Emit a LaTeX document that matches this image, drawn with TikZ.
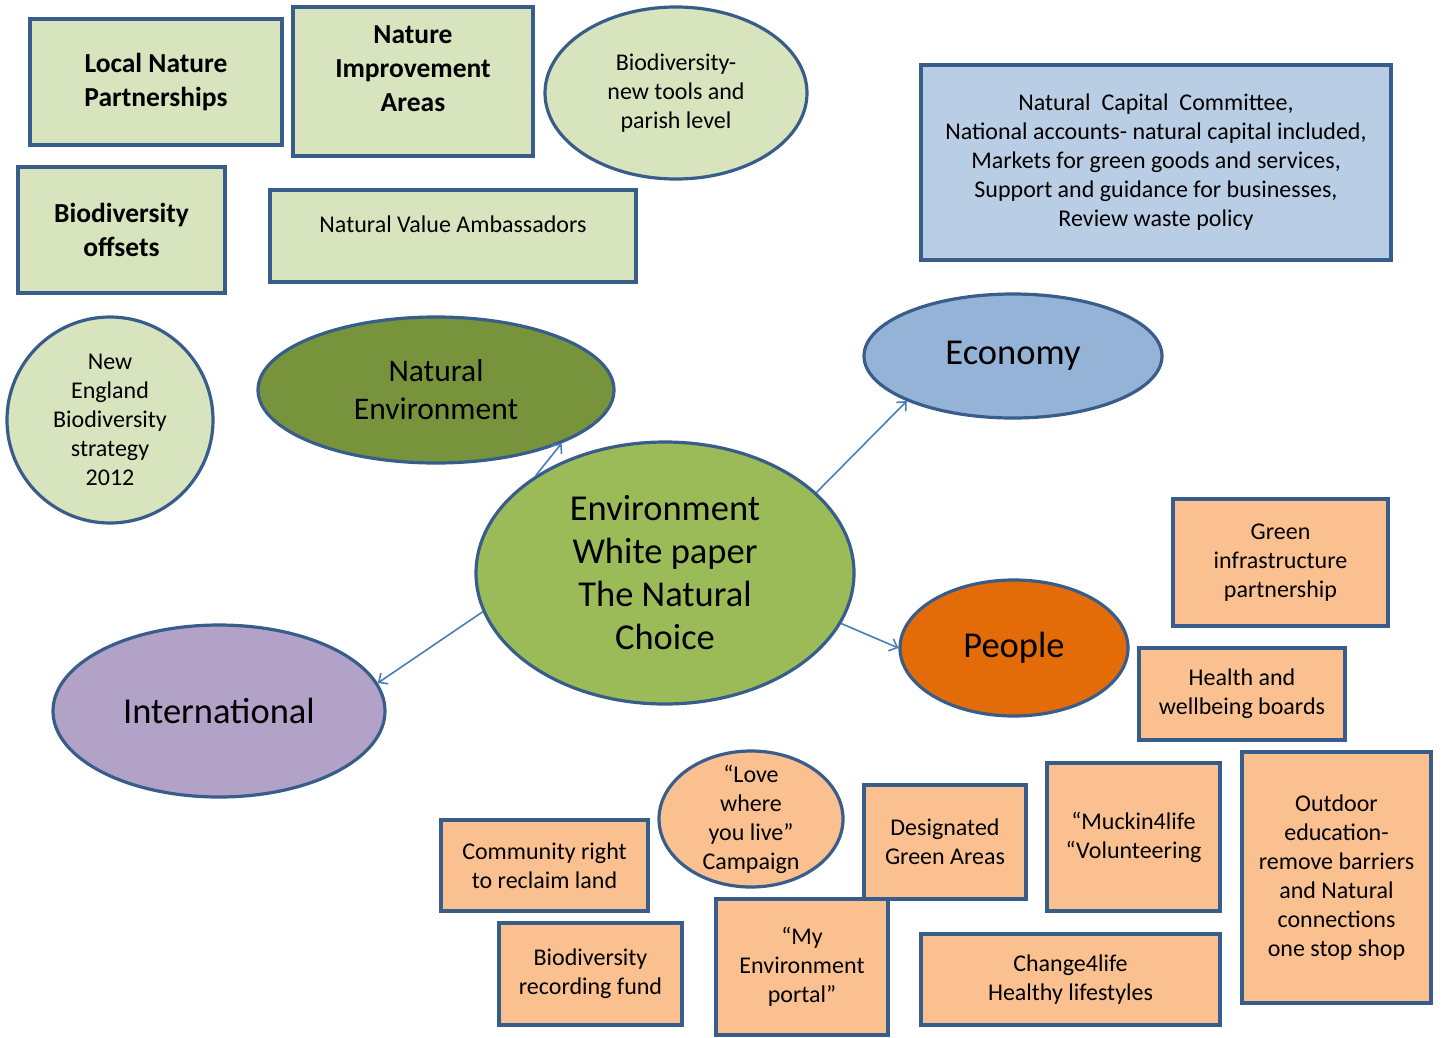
\documentclass[tikz,border=0pt]{standalone}
\usepackage{fontspec}
\setmainfont{Carlito}
\usetikzlibrary{shapes.geometric,arrows.meta}

\definecolor{edgeblue}{RGB}{56,93,138}
\definecolor{arrowblue}{RGB}{74,126,187}
\definecolor{palegreen}{RGB}{215,228,189}
\definecolor{paleblue}{RGB}{185,205,229}
\definecolor{paleorange}{RGB}{250,192,144}
\definecolor{olivegreen}{RGB}{119,147,60}
\definecolor{leafgreen}{RGB}{155,187,89}
\definecolor{skyblue}{RGB}{149,179,215}
\definecolor{burntorange}{RGB}{227,108,9}
\definecolor{lavender}{RGB}{179,162,199}

\begin{document}
\begin{tikzpicture}[x=1pt,y=-1pt,
    outlined/.style={draw=edgeblue,line width=3.2pt,inner sep=0pt,align=center},
    gbox/.style={outlined,rectangle,fill=palegreen},
    obox/.style={outlined,rectangle,fill=paleorange},
    oval/.style={outlined,ellipse},
    smalltext/.style={font=\fontsize{24}{29}\selectfont,align=center},
    boldtext/.style={font=\bfseries\fontsize{27.5}{34}\selectfont,align=center},
    bigtext/.style={font=\fontsize{36.5}{43}\selectfont},
    link/.style={draw=arrowblue,line width=1.6pt,-{Straight Barb[length=7pt,width=13pt]}}]
    \useasboundingbox (0,0) rectangle (1442,1037);

    % top left: green boxes
    \node[gbox,boldtext,minimum width=252,minimum height=126] (lnp) at (156,82) {Local Nature\\Partnerships};
    \node[gbox,minimum width=240,minimum height=149] (nia) at (413,81.5) {};
    \node[boldtext] (niatext) at ([yshift=13pt]nia.center) {Nature\\Improvement\\Areas};
    \node[oval,fill=palegreen,smalltext,minimum width=262,minimum height=172] (tools) at (676,93) {Biodiversity-\\new tools and\\parish level};
    \node[gbox,boldtext,minimum width=207,minimum height=126] (offsets) at (121.5,230) {Biodiversity\\offsets};
    \node[gbox,minimum width=366,minimum height=92] (nva) at (453,236) {};
    \node[smalltext] (nvatext) at ([yshift=12pt]nva.center) {Natural Value Ambassadors};
    \node[oval,fill=palegreen,smalltext,minimum width=206,minimum height=206] (strategy) at (110,420) {New\\England\\Biodiversity\\strategy\\2012};

    % top right
    \node[outlined,rectangle,fill=paleblue,smalltext,minimum width=470,minimum height=195] (capital) at (1156,162.5)
        {Natural\ \ Capital\ \ Committee,\\National accounts- natural capital included,\\Markets for green goods and services,\\Support and guidance for businesses,\\Review waste policy};

    % the main ellipses
    \node[oval,fill=olivegreen,font=\fontsize{31.5}{38}\selectfont,minimum width=356,minimum height=146] (natenv) at (436,390) {Natural\\Environment};
    \node[oval,fill=skyblue,bigtext,minimum width=298,minimum height=124] (economy) at (1013,356) {Economy};
    \node[oval,fill=leafgreen,bigtext,minimum width=378,minimum height=262] (paper) at (665,573) {Environment\\White paper\\The Natural\\Choice};
    \node[oval,fill=burntorange,bigtext,minimum width=228,minimum height=136] (people) at (1014,648) {People};
    \node[oval,fill=lavender,bigtext,minimum width=332,minimum height=172] (intl) at (219,711) {International};

    \draw[link] (paper.143.8) -- (natenv.-23.9);
    \draw[link] (paper.28.7) -- (economy.203.7);
    \draw[link] (paper.-16.3) -- (people.180);
    \draw[link] (paper.192.2) -- (intl.10.2);

    % people: orange boxes
    \node[obox,smalltext,minimum width=215,minimum height=127] (green) at (1280.5,562.5) {Green\\infrastructure\\partnership};
    \node[obox,smalltext,minimum width=206,minimum height=92] (health) at (1242,694) {Health and\\wellbeing boards};
    \node[obox,smalltext,minimum width=189,minimum height=251] (outdoor) at (1336.5,877.5) {Outdoor\\education-\\remove barriers\\and Natural\\connections\\one stop shop};
    \node[obox,smalltext,minimum width=173,minimum height=148] (muckin) at (1133.5,837) {“Muckin4life\\“Volunteering};
    \node[obox,smalltext,minimum width=162,minimum height=114] (areas) at (945,842) {Designated\\Green Areas};
    \node[oval,fill=paleorange,minimum width=184,minimum height=136] (love) at (751,819) {};
    \node[smalltext] (lovetext) at (love.center) {“Love\\where\\you live”\\Campaign};
    \node[obox,smalltext,minimum width=207,minimum height=91] (reclaim) at (544.5,865.5) {Community right\\to reclaim land};
    \node[obox,smalltext,minimum width=183,minimum height=102] (fund) at (590.5,974) {Biodiversity\\recording fund};
    \node[obox,smalltext,minimum width=172,minimum height=136] (portal) at (802,967) {“My\\Environment\\portal”};
    \node[obox,smalltext,minimum width=299,minimum height=91] (change) at (1070.5,979.5) {Change4life\\Healthy lifestyles};
\end{tikzpicture}
\end{document}
